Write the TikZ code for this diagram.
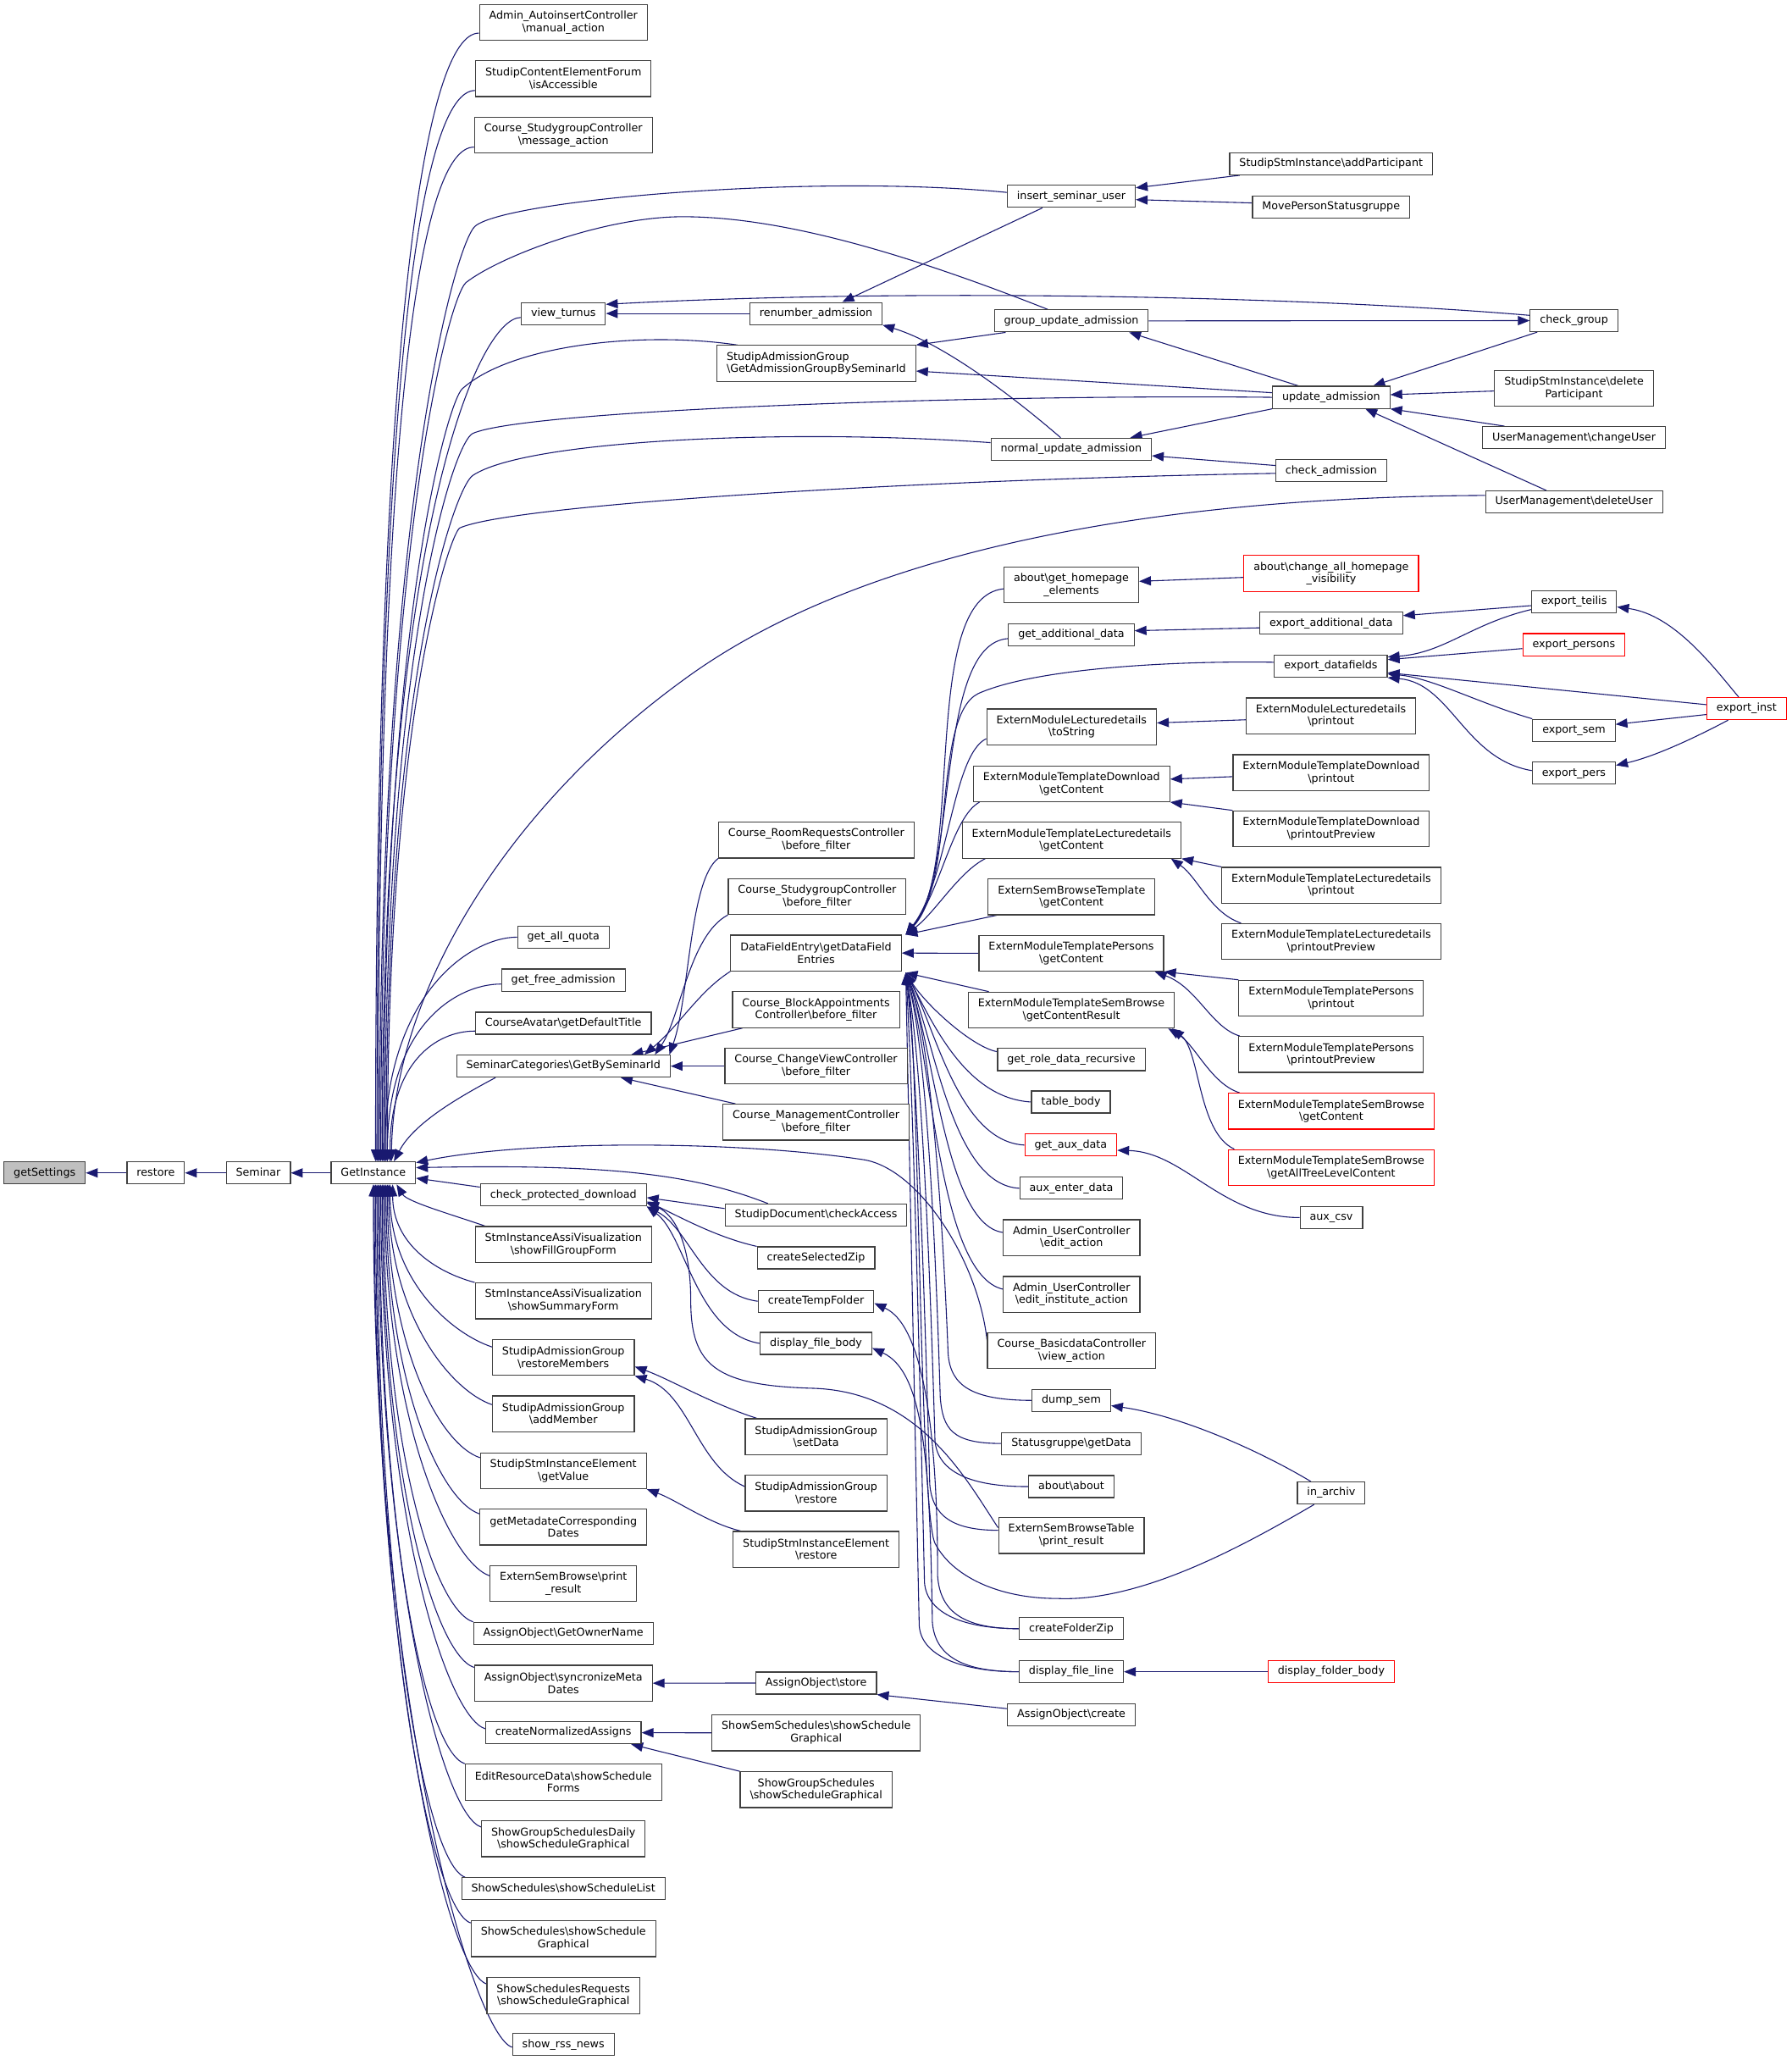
\documentclass[tikz,border=0pt]{standalone}
\usepackage{fontspec}
\setmainfont{DejaVu Sans}
\usetikzlibrary{arrows.meta,calc,backgrounds}
\definecolor{edgec}{HTML}{191970}
\definecolor{bordc}{HTML}{404040}
\begin{document}
\begin{tikzpicture}[x=1pt,y=-1pt,
  nb/.style={draw=bordc,line width=0.75pt,fill=white,font=\fontsize{8.2}{9.4}\selectfont,inner xsep=7.4pt,inner ysep=0pt},
  box/.style={nb,minimum height=16.8pt,text height=6.2pt,text depth=1.9pt},
  box2/.style={nb,minimum height=27.3pt,align=center},
  boxl/.style={nb,minimum height=27.3pt,align=left},
  rbox/.style={draw=red},
  ed/.style={draw=edgec,line width=0.7pt,-{Triangle[length=9pt,width=7pt]}}]
\useasboundingbox (0,0) rectangle (1364,1568.4);
% rank 0-3
\node[box,fill=black!25] (gs) at (34,893) {getSettings};
\node[box] (rs) at (118.6,893) {restore};
\node[box] (sem) at (196.7,893) {Seminar};
\node[box] (gi) at (284.3,893) {GetInstance};
% column 1
\node[box2] (aac) at (429,17.2) {Admin\_AutoinsertController\\\textbackslash manual\_action};
\node[box2] (scf) at (429,59.9) {StudipContentElementForum\\\textbackslash isAccessible};
\node[box2] (csm) at (429,103) {Course\_StudygroupController\\\textbackslash message\_action};
\node[box] (vt) at (429,238.7) {view\_turnus};
\node[box] (gaq) at (429,713.5) {get\_all\_quota};
\node[box] (gfa) at (429,746.2) {get\_free\_admission};
\node[box] (cav) at (429,779) {CourseAvatar\textbackslash getDefaultTitle};
\node[box] (sc) at (429,811.7) {SeminarCategories\textbackslash GetBySeminarId};
\node[box] (cpd) at (429,909.8) {check\_protected\_download};
\node[box2] (sfg) at (429,947.5) {StmInstanceAssiVisualization\\\textbackslash showFillGroupForm};
\node[box2] (ssf) at (429,990.4) {StmInstanceAssiVisualization\\\textbackslash showSummaryForm};
\node[box2] (rm) at (429,1033.5) {StudipAdmissionGroup\\\textbackslash restoreMembers};
\node[box2] (am) at (429,1076.4) {StudipAdmissionGroup\\\textbackslash addMember};
\node[box2] (gv) at (429,1119.8) {StudipStmInstanceElement\\\textbackslash getValue};
\node[box2] (gm) at (429,1162.6) {getMetadateCorresponding\\Dates};
\node[box2] (esb) at (429,1205.7) {ExternSemBrowse\textbackslash print\\\_result};
\node[box] (gon) at (429,1243.6) {AssignObject\textbackslash GetOwnerName};
\node[box2] (smd) at (429,1281.5) {AssignObject\textbackslash syncronizeMeta\\Dates};
\node[box] (cna) at (429,1319.2) {createNormalizedAssigns};
\node[box2] (erd) at (429,1356.8) {EditResourceData\textbackslash showSchedule\\Forms};
\node[box2] (sgd) at (429,1400) {ShowGroupSchedulesDaily\\\textbackslash showScheduleGraphical};
\node[box] (ssl) at (429,1438) {ShowSchedules\textbackslash showScheduleList};
\node[box2] (ssg) at (429,1476) {ShowSchedules\textbackslash showSchedule\\Graphical};
\node[box2] (ssr) at (429,1519.4) {ShowSchedulesRequests\\\textbackslash showScheduleGraphical};
\node[box] (srn) at (429,1556.7) {show\_rss\_news};
% column 2
\node[box] (ra) at (621.4,238.7) {renumber\_admission};
\node[boxl] (sag) at (621.6,276.7) {StudipAdmissionGroup\\\textbackslash GetAdmissionGroupBySeminarId};
\node[box2] (crr) at (621.6,639.6) {Course\_RoomRequestsController\\\textbackslash before\_filter};
\node[box2] (csb) at (622.3,682.6) {Course\_StudygroupController\\\textbackslash before\_filter};
\node[box2] (dfe) at (621.4,725.6) {DataFieldEntry\textbackslash getDataField\\Entries};
\node[box2] (cba) at (621.4,768.7) {Course\_BlockAppointments\\Controller\textbackslash before\_filter};
\node[box2] (ccv) at (621.4,811.7) {Course\_ChangeViewController\\\textbackslash before\_filter};
\node[box2] (cmc) at (621.4,854.4) {Course\_ManagementController\\\textbackslash before\_filter};
\node[box] (sdc) at (621.4,925.1) {StudipDocument\textbackslash checkAccess};
\node[box] (csz) at (621.4,957.7) {createSelectedZip};
\node[box] (ctf) at (621.4,990.7) {createTempFolder};
\node[box] (dfbo) at (621.4,1022.8) {display\_file\_body};
\node[box2] (sad) at (621.5,1093.8) {StudipAdmissionGroup\\\textbackslash setData};
\node[box2] (sar) at (621.5,1136.8) {StudipAdmissionGroup\\\textbackslash restore};
\node[box2] (ser) at (621.5,1179.6) {StudipStmInstanceElement\\\textbackslash restore};
\node[box] (as) at (621.5,1281.4) {AssignObject\textbackslash store};
\node[box2] (sss) at (621.5,1319.3) {ShowSemSchedules\textbackslash showSchedule\\Graphical};
\node[box2] (sgs) at (621.5,1362.6) {ShowGroupSchedules\\\textbackslash showScheduleGraphical};
% column 3
\node[box] (isu) at (815.8,149.5) {insert\_seminar\_user};
\node[box] (gua) at (815.8,244.3) {group\_update\_admission};
\node[box] (nua) at (815.7,342) {normal\_update\_admission};
\node[box2] (ghe) at (815.8,445.3) {about\textbackslash get\_homepage\\\_elements};
\node[box] (gad) at (815.8,483.2) {get\_additional\_data};
\node[box2] (ts) at (816,553.4) {ExternModuleLecturedetails\\\textbackslash toString};
\node[box2] (tdg) at (816,596.7) {ExternModuleTemplateDownload\\\textbackslash getContent};
\node[box2] (tlg) at (816,639.7) {ExternModuleTemplateLecturedetails\\\textbackslash getContent};
\node[box2] (sbt) at (816,682.8) {ExternSemBrowseTemplate\\\textbackslash getContent};
\node[box2] (tpg) at (815.8,725.8) {ExternModuleTemplatePersons\\\textbackslash getContent};
\node[box2] (tsr) at (815.8,769) {ExternModuleTemplateSemBrowse\\\textbackslash getContentResult};
\node[box] (grd) at (815.8,806.7) {get\_role\_data\_recursive};
\node[box] (tb) at (815.5,839) {table\_body};
\node[box,rbox] (gxd) at (815.4,871.8) {get\_aux\_data};
\node[box] (aed) at (815.8,904.7) {aux\_enter\_data};
\node[box2] (uea) at (816,942.3) {Admin\_UserController\\\textbackslash edit\_action};
\node[box2] (uei) at (816,985.5) {Admin\_UserController\\\textbackslash edit\_institute\_action};
\node[box2] (cbd) at (816,1028.4) {Course\_BasicdataController\\\textbackslash view\_action};
\node[box] (ds) at (815.8,1066.2) {dump\_sem};
\node[box] (sgg) at (815.8,1099) {Statusgruppe\textbackslash getData};
\node[box] (ab) at (815.8,1131.8) {about\textbackslash about};
\node[box2] (esbt) at (815.8,1169.1) {ExternSemBrowseTable\\\textbackslash print\_result};
\node[box] (cfz) at (815.8,1240) {createFolderZip};
\node[box] (dfl) at (815.8,1272.8) {display\_file\_line};
\node[box] (ac) at (815.8,1305.4) {AssignObject\textbackslash create};
% column 4
\node[box] (ap) at (1013.6,124.7) {StudipStmInstance\textbackslash addParticipant};
\node[box] (mps) at (1013.6,157.5) {MovePersonStatusgruppe};
\node[box] (ua) at (1013.7,302.5) {update\_admission};
\node[box] (ca) at (1013.7,358.4) {check\_admission};
\node[box2,rbox] (chv) at (1013.7,436.6) {about\textbackslash change\_all\_homepage\\\_visibility};
\node[box] (ead) at (1013.7,474.5) {export\_additional\_data};
\node[box] (edf) at (1013.4,507.2) {export\_datafields};
\node[box2] (elp) at (1013.5,545) {ExternModuleLecturedetails\\\textbackslash printout};
\node[box2] (tdp) at (1013.7,588.3) {ExternModuleTemplateDownload\\\textbackslash printout};
\node[box2] (tdpp) at (1013.7,631) {ExternModuleTemplateDownload\\\textbackslash printoutPreview};
\node[box2] (tlp) at (1013.7,674) {ExternModuleTemplateLecturedetails\\\textbackslash printout};
\node[box2] (tlpp) at (1013.7,716.8) {ExternModuleTemplateLecturedetails\\\textbackslash printoutPreview};
\node[box2] (pp) at (1013.7,760) {ExternModuleTemplatePersons\\\textbackslash printout};
\node[box2] (ppp) at (1013.7,802.8) {ExternModuleTemplatePersons\\\textbackslash printoutPreview};
\node[box2,rbox] (sbg) at (1013.7,846) {ExternModuleTemplateSemBrowse\\\textbackslash getContent};
\node[box2,rbox] (sba) at (1013.7,888.9) {ExternModuleTemplateSemBrowse\\\textbackslash getAllTreeLevelContent};
\node[box] (axc) at (1013.8,927) {aux\_csv};
\node[box] (ia) at (1013.7,1136.7) {in\_archiv};
\node[box,rbox] (dfob) at (1013.7,1272.8) {display\_folder\_body};
% column 5/6
\node[box] (cg) at (1198.6,244.1) {check\_group};
\node[box2] (dp) at (1198.6,295.7) {StudipStmInstance\textbackslash delete\\Participant};
\node[box] (cu) at (1198.6,333.2) {UserManagement\textbackslash changeUser};
\node[box] (dU) at (1198.6,382.2) {UserManagement\textbackslash deleteUser};
\node[box] (et) at (1198.6,458.1) {export\_teilis};
\node[box,rbox] (ep) at (1198.5,490.8) {export\_persons};
\node[box] (es) at (1198.5,556) {export\_sem};
\node[box] (epr) at (1198.5,588.7) {export\_pers};
\node[box,rbox] (ei) at (1330,539.5) {export\_inst};
\coordinate (dfeT) at ($(dfe.north east)+(3,0)$);
\coordinate (dfeB) at ($(dfe.south east)+(3,1)$);

\begin{pgfonlayer}{background}
% chain
\draw[ed] (rs.west) -- (gs.east);
\draw[ed] (sem.west) -- (rs.east);
\draw[ed] (gi.west) -- (sem.east);
% GetInstance from above
\draw[ed] ($(aac.west)+(0,8)$) .. controls +(-40,0) and +(0,-645) .. ($(gi.north)+(1.7,0)$);
\draw[ed] ($(scf.west)+(0,9)$) .. controls +(-40,0) and +(0,-612) .. ($(gi.north)+(2.7,0)$);
\draw[ed] ($(csm.west)+(0,9)$) .. controls +(-40,0) and +(0,-580) .. ($(gi.north)+(3.7,0)$);
\draw[ed] ($(isu.west)+(0,-3)$) .. controls (620,132) and (387,152) .. (362,172) .. controls (347,184) and (289,386) .. ($(gi.north)+(4.7,0)$);
\draw[ed] ($(gua.north)+(-18,0)$) .. controls (700,197) and (600,165) .. (520,165) .. controls (460,165) and (381,195) .. (355,215) .. controls (342,225) and (290,416) .. ($(gi.north)+(5.7,0)$);
\draw[ed] ($(vt.west)+(0,3)$) .. controls +(-32,0) and +(0,-482) .. ($(gi.north)+(6.7,0)$);
\draw[ed] ($(sag.north west)+(16,0)$) .. controls (490,252) and (390,262) .. (352,296) .. controls (341,306) and (292,472) .. ($(gi.north)+(7.7,0)$);
\draw[ed] (ua.west) .. controls (750,300) and (400,312) .. (360,330) .. controls (345,337) and (293,496) .. ($(gi.north)+(8.7,0)$);
\draw[ed] ($(nua.west)+(0,-5)$) .. controls (600,326) and (400,335) .. (360,362) .. controls (346,371.5) and (294,518) .. ($(gi.north)+(9.7,0)$);
\draw[ed] ($(ca.west)+(0,2)$) .. controls (700,365) and (390,384) .. (350,402) .. controls (342,408) and (295,547) .. ($(gi.north)+(10.7,0)$);
\draw[ed] ($(dU.west)+(0,-5)$) .. controls (950,378) and (680,400) .. (520,518) .. controls (380,620) and (300,760) .. ($(gi.north)+(13.7,0)$);
\draw[ed] (gaq.west) .. controls +(-35,0) and +(0,-128) .. ($(gi.north)+(8.7,0)$);
\draw[ed] ($(gfa.west)+(0,3)$) .. controls +(-35,0) and +(0,-102) .. ($(gi.north)+(10.7,0)$);
\draw[ed] ($(cav.west)+(0,6)$) .. controls +(-30,0) and +(0,-75) .. ($(gi.north)+(12.7,0)$);
\draw[ed] ($(sc.south west)+(30,0)$) .. controls (350,835) and (315,855) .. ($(gi.north)+(15.7,0)$);
% GetInstance from the right
\draw[ed] ($(cbd.west)+(0,-8)$) .. controls (745,960) and (700,890) .. (658,883) .. controls (560,868) and (400,868) .. ($(gi.north east)+(0,1)$);
\draw[ed] ($(sdc.north west)+(33,0)$) .. controls (530,895) and (470,886) .. ($(gi.east)+(0,-4)$);
\draw[ed] ($(cpd.west)+(0,-6)$) -- ($(gi.east)+(0,4)$);
% GetInstance from below
\draw[ed] ($(sfg.north west)+(8,0)$) .. controls (345,925) and (310,915) .. ($(gi.south)+(17.7,0)$);
\draw[ed] (ssf.north west) .. controls +(-30,-8) and +(0,45) .. ($(gi.south)+(14.7,0)$);
\draw[ed] ($(rm.west)+(0,-8)$) .. controls +(-30,-10) and +(0,74) .. ($(gi.south)+(12.7,0)$);
\draw[ed] ($(am.west)+(0,-7)$) .. controls +(-30,-10) and +(0,101) .. ($(gi.south)+(11.7,0)$);
\draw[ed] ($(gv.west)+(0,-10)$) .. controls +(-30,-10) and +(0,125) .. ($(gi.south)+(10.7,0)$);
\draw[ed] ($(gm.west)+(0,-10)$) .. controls +(-30,-10) and +(0,150) .. ($(gi.south)+(9.7,0)$);
\draw[ed] ($(esb.west)+(0,-6)$) .. controls +(-30,-10) and +(0,179) .. ($(gi.south)+(8.7,0)$);
\draw[ed] (gon.north west) .. controls +(-30,-10) and +(0,200) .. ($(gi.south)+(7.7,0)$);
\draw[ed] ($(smd.west)+(0,-12)$) .. controls +(-30,-10) and +(0,221) .. ($(gi.south)+(6.7,0)$);
\draw[ed] ($(cna.west)+(0,-3)$) .. controls +(-30,-10) and +(0,248) .. ($(gi.south)+(5.7,0)$);
\draw[ed] (erd.north west) .. controls +(-30,-10) and +(0,265) .. ($(gi.south)+(4.7,0)$);
\draw[ed] ($(sgd.west)+(0,-9)$) .. controls +(-30,-10) and +(0,293) .. ($(gi.south)+(3.7,0)$);
\draw[ed] ($(ssl.north west)+(3,0)$) .. controls +(-30,-10) and +(0,317) .. ($(gi.south)+(2.7,0)$);
\draw[ed] ($(ssg.west)+(0,-12)$) .. controls +(-30,-10) and +(0,337) .. ($(gi.south)+(1.7,0)$);
\draw[ed] ($(ssr.west)+(0,-9)$) .. controls +(-30,-10) and +(0,365) .. ($(gi.south)+(0.7,0)$);
\draw[ed] ($(srn.west)+(0,2)$) .. controls +(-30,-10) and +(0,394) .. (gi.south);
% admission cluster
\draw[ed] ($(ap.south west)+(8,0)$) -- ($(isu.east)+(0,-6.5)$);
\draw[ed] ($(mps.west)+(0,-3)$) -- ($(isu.east)+(0,2.5)$);
\draw[ed] ($(isu.south)+(-22,0)$) -- ($(ra.north)+(20,0)$);
\draw[ed] (ra.west) -- (vt.east);
\draw[ed] ($(cg.west)+(0,-4)$) .. controls (1000,226) and (700,219) .. ($(vt.east)+(0,-7)$);
\draw[ed] ($(nua.north)+(-8,0)$) .. controls (775,305) and (720,262) .. (ra.south east);
\draw[ed] ($(gua.south)+(-50,0)$) -- (sag.north east);
\draw[ed] ($(ua.west)+(0,-3.5)$) -- ($(sag.east)+(0,5.8)$);
\draw[ed] (gua.east) -- (cg.west);
\draw[ed] ($(ua.north)+(-25,0)$) -- ($(gua.south)+(44,0)$);
\draw[ed] (ua.south west) -- ($(nua.north)+(45,0)$);
\draw[ed] ($(ca.west)+(0,-4)$) -- ($(nua.east)+(0,5)$);
\draw[ed] ($(cg.south)+(-28,0)$) -- ($(ua.north)+(32,0)$);
\draw[ed] ($(dp.west)+(0,2)$) -- ($(ua.east)+(0,-2)$);
\draw[ed] ($(cu.north)+(-53,0)$) -- (ua.south east);
\draw[ed] ($(dU.north)+(-21,0)$) -- ($(ua.south)+(26,0)$);
% export cluster
\draw[ed] ($(chv.west)+(0,3)$) -- ($(ghe.east)+(0,-2.7)$);
\draw[ed] ($(ead.west)+(0,3.5)$) -- ($(gad.east)+(0,-3)$);
\draw[ed] ($(et.west)+(0,3)$) -- ($(ead.east)+(0,-5.8)$);
\draw[ed] ($(et.west)+(0,6)$) .. controls (1120,475) and (1100,497) .. ($(edf.east)+(0,-7)$);
\draw[ed] ($(ep.west)+(0,3)$) -- ($(edf.east)+(0,-5)$);
\draw[ed] ($(ei.west)+(0,-3)$) -- ($(edf.east)+(0,5)$);
\draw[ed] (es.north west) .. controls (1125,535) and (1090,516) .. ($(edf.east)+(0,6)$);
\draw[ed] ($(epr.west)+(0,-2)$) .. controls (1115,578) and (1105,520) .. (edf.south east);
\draw[ed] ($(ei.north)+(-6,0)$) .. controls (1305,508) and (1275,468) .. ($(et.east)+(0,4)$);
\draw[ed] ($(ei.west)+(0,4.5)$) -- ($(es.east)+(0,-4.5)$);
\draw[ed] ($(ei.south)+(-14,0)$) .. controls (1290,562) and (1260,576) .. ($(epr.east)+(0,-6)$);
% extern modules
\draw[ed] ($(elp.west)+(0,3)$) -- ($(ts.east)+(0,-3)$);
\draw[ed] ($(tdp.west)+(0,3)$) -- ($(tdg.east)+(0,-3.5)$);
\draw[ed] (tdpp.north west) -- (tdg.south east);
\draw[ed] (tlp.north west) -- (tlg.south east);
\draw[ed] ($(tlpp.north west)+(15,0)$) .. controls (922,695) and (912,668) .. ($(tlg.south east)+(-8,0)$);
\draw[ed] (pp.north west) -- (tpg.south east);
\draw[ed] ($(ppp.north west)+(1,0)$) .. controls (922,782) and (912,752) .. ($(tpg.south east)+(-7,0)$);
\draw[ed] ($(sbg.north west)+(9,0)$) .. controls (922,825) and (910,795) .. ($(tsr.south east)+(-5,0)$);
\draw[ed] ($(sba.north west)+(5,0)$) .. controls (912,862) and (914,800) .. ($(tsr.south east)+(-2,0)$);
\draw[ed] (axc.west) .. controls (930,927) and (902,877) .. ($(gxd.east)+(0,4)$);
% DataFieldEntry top
\draw[ed] ($(ghe.west)+(0,3)$) .. controls (700,455) and (735,660) .. (dfeT);
\draw[ed] ($(gad.west)+(0,3)$) .. controls (712,490) and (730,665) .. (dfeT);
\draw[ed] ($(edf.west)+(0,-3)$) .. controls (900,503) and (790,508) .. (745,528) .. controls (710,545) and (728,670) .. (dfeT);
\draw[ed] ($(ts.west)+(0,9)$) .. controls (725,575) and (722,670) .. (dfeT);
\draw[ed] ($(tdg.south west)+(5,0)$) .. controls (725,622) and (716,680) .. (dfeT);
\draw[ed] ($(tlg.south west)+(18,0)$) .. controls (730,664) and (712,695) .. (dfeT);
\draw[ed] ($(sbt.south west)+(7,0)$) -- (dfeT);
\draw[ed] (tpg.west) -- (dfe.east);
% DataFieldEntry bottom
\draw[ed] ($(tsr.north west)+(16,0)$) -- (dfeB);
\draw[ed] ($(grd.west)+(0,-6)$) .. controls (740,797) and (705,765) .. (dfeB);
\draw[ed] (tb.west) .. controls (735,836) and (710,778) .. (dfeB);
\draw[ed] (gxd.west) .. controls (730,869) and (712,782) .. (dfeB);
\draw[ed] (aed.west) .. controls (725,902) and (712,792) .. (dfeB);
\draw[ed] ($(uea.west)+(0,-4)$) .. controls (720,932) and (712,800) .. (dfeB);
\draw[ed] ($(uei.west)+(0,-4)$) .. controls (715,970) and (710,810) .. (dfeB);
\draw[ed] (ds.west) .. controls (740,1066) and (724,1055) .. (722,1031) .. controls (720,980) and (712,800) .. (dfeB);
\draw[ed] (sgg.west) .. controls (725,1099) and (718,1088) .. (716,1064) .. controls (714,1000) and (708,810) .. (dfeB);
\draw[ed] (ab.west) .. controls (740,1132) and (714,1121) .. (712,1097) .. controls (710,1030) and (704,820) .. (dfeB);
\draw[ed] ($(esbt.west)+(0,-4)$) .. controls (725,1165) and (710,1154) .. (708,1130) .. controls (706,1060) and (700,830) .. (dfeB);
\draw[ed] (cfz.west) .. controls (735,1240) and (706,1229) .. (704,1205) .. controls (702,1120) and (696,840) .. (dfeB);
\draw[ed] (dfl.west) .. controls (735,1272.8) and (702,1262) .. (700,1238) .. controls (698,1150) and (692,850) .. (dfeB);
\draw[ed] ($(ia.south)+(-13,0)$) .. controls (950,1175) and (870,1220) .. (805,1217) .. controls (760,1217) and (725,1200) .. (712,1175) .. controls (700,1150) and (700,800) .. (dfeB);
\draw[ed] ($(ia.north)+(-15.5,0)$) .. controls (960,1105) and (900,1078) .. ($(ds.east)+(0,4)$);
\draw[ed] (dfob.west) -- (dfl.east);
% file functions
\draw[ed] (cfz.west) .. controls (735,1240) and (716,1228) .. (714,1200) .. controls (714,1100) and (705,1010) .. ($(ctf.east)+(0,1.5)$);
\draw[ed] (dfl.west) .. controls (735,1272.8) and (712,1262) .. (710,1235) .. controls (708,1120) and (705,1045) .. ($(dfbo.east)+(0,3.5)$);
\draw[ed] ($(sdc.west)+(0,-5)$) -- ($(cpd.east)+(0,2)$);
\draw[ed] (csz.north west) .. controls (545,942) and (515,925) .. ($(cpd.east)+(0,5)$);
\draw[ed] (ctf.west) .. controls (535,985) and (525,935) .. (cpd.south east);
\draw[ed] (dfbo.west) .. controls (530,1015) and (522,940) .. (cpd.south east);
\draw[ed] ($(esbt.west)+(0,-6)$) .. controls (735,1125) and (700,1060) .. (620,1057) .. controls (545,1055) and (526,1040) .. (526,990) .. controls (526,950) and (515,925) .. ($(cpd.east)+(0,6)$);
% SeminarCategories
\draw[ed] (crr.south west) .. controls (525,670) and (525,760) .. ($(sc.north east)+(-1,0)$);
\draw[ed] (csb.south west) .. controls (525,712) and (518,775) .. ($(sc.north east)+(-12,0)$);
\draw[ed] (dfe.south west) .. controls (532,755) and (518,780) .. ($(sc.north east)+(-20,0)$);
\draw[ed] ($(cba.south west)+(8,0)$) -- ($(sc.north east)+(-30,0)$);
\draw[ed] (ccv.west) -- (sc.east);
\draw[ed] ($(cmc.north west)+(10,0)$) -- ($(sc.south east)+(-38,0)$);
% lower column 2
\draw[ed] ($(sad.north west)+(9,0)$) .. controls (540,1068) and (510,1050) .. ($(rm.east)+(0,7)$);
\draw[ed] ($(sar.west)+(0,-5)$) .. controls (530,1115) and (525,1060) .. (rm.south east);
\draw[ed] ($(ser.north west)+(6,0)$) .. controls (540,1160) and (515,1142) .. (gv.south east);
\draw[ed] (as.west) -- (smd.east);
\draw[ed] ($(ac.west)+(0,-4.5)$) -- (as.south east);
\draw[ed] (sss.west) -- (cna.east);
\draw[ed] (sgs.north west) -- ($(cna.south east)+(-8,0)$);
\end{pgfonlayer}
\end{tikzpicture}
\end{document}
